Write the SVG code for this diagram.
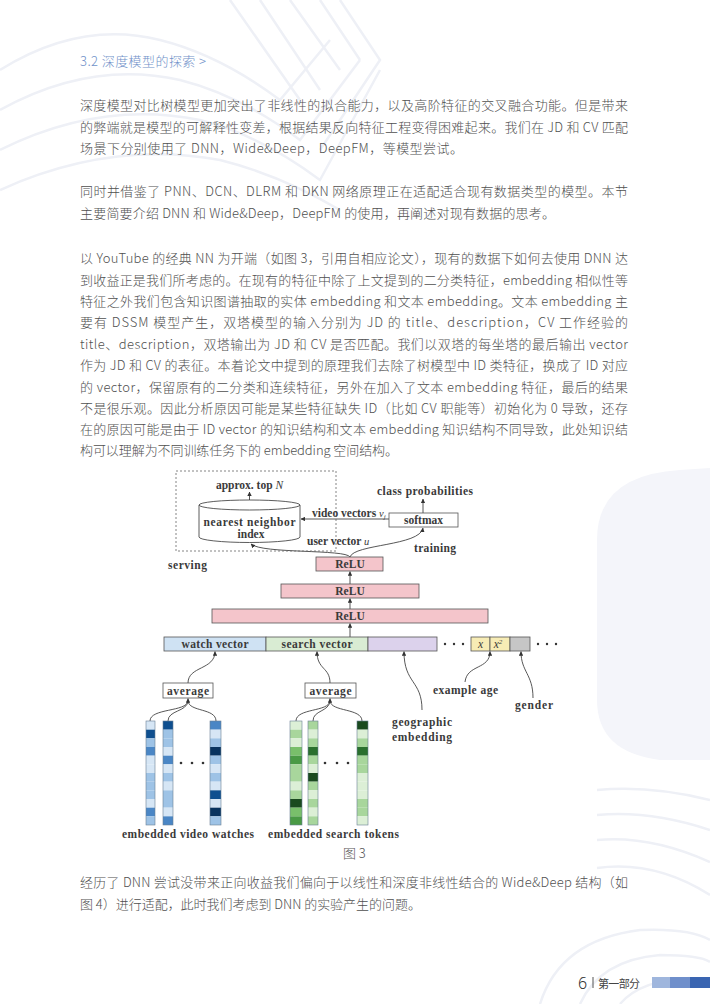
<svg xmlns="http://www.w3.org/2000/svg" width="710" height="1004" viewBox="0 0 710 1004">
<defs>
<style>
.body{font-family:"Noto Sans CJK SC","Noto Sans",sans-serif;font-size:13px;fill:#505050;font-weight:300;}
.dg{font-family:"Liberation Serif","DejaVu Serif",serif;font-size:11.5px;fill:#3a3a3a;font-weight:bold;}
.it{font-style:italic;font-weight:normal;}
.deco{fill:none;stroke:#eef0f6;stroke-width:2.5;}
.box{stroke:#555;stroke-width:0.8;}
.relu{fill:#f4c5cb;}
.con{fill:none;stroke:#444;stroke-width:0.9;}
.bL{fill:#d6e6f5}.bM{fill:#9ec3e6}.bS{fill:#4a86c5}.bD{fill:#0f4f8f}.bX{fill:#08335f}
.gL{fill:#dcefd6}.gM{fill:#a8d69c}.gG{fill:#79bf6b}.gS{fill:#4a9a45}.gD{fill:#2a6f2e}.gX{fill:#1a4a1f}
.col{fill:none;stroke:#6a7f95;stroke-width:0.6;}
</style>
<marker id="ah" viewBox="0 0 6 6" refX="5.5" refY="3" markerWidth="4.5" markerHeight="4.5" markerUnits="userSpaceOnUse" orient="auto"><path d="M0,0 L6,3 L0,6 z" fill="#333"/></marker>
</defs>
<rect x="0" y="0" width="710" height="1004" fill="#ffffff"/>
<g id="background">
<path d="M597,540 Q597,475 680,470 L710,468 L710,760 L660,760 Q597,752 597,700 Z" fill="#f4f5fa"/>
<path class="deco" d="M0,70 Q80,20 160,40 Q220,55 280,100 L330,40 M0,110 Q90,60 180,80 Q240,95 300,140 L360,60 M0,150 Q100,100 200,120 Q260,135 320,180 L380,70 M0,190 Q110,140 220,160 Q280,175 340,210 M230,0 L300,100 M260,0 L320,90 M290,0 L340,70 M320,0 L360,60 M340,0 L380,60 L320,150"/>
<path class="deco" d="M597,790 Q650,785 710,800 M597,815 Q650,810 710,830 M597,840 Q650,835 710,862 M597,868 Q655,860 710,895 M540,1004 Q560,940 640,930 Q690,928 710,940 M580,1004 Q600,960 660,955 Q700,955 710,962 M620,1004 Q640,980 690,978"/>
</g>
<g id="title">
<text x="80" y="66" font-family="'Noto Sans CJK SC','Noto Sans',sans-serif" font-size="13" font-weight="300" fill="#7091c9" textLength="126" lengthAdjust="spacing">3.2 深度模型的探索 &gt;</text>
</g>
<g id="para1" class="body">
<text x="80" y="110" textLength="548" lengthAdjust="spacing">深度模型对比树模型更加突出了非线性的拟合能力，以及高阶特征的交叉融合功能。但是带来</text>
<text x="80" y="132" textLength="548" lengthAdjust="spacing">的弊端就是模型的可解释性变差，根据结果反向特征工程变得困难起来。我们在 JD 和 CV 匹配</text>
<text x="80" y="153" textLength="383" lengthAdjust="spacing">场景下分别使用了 DNN，Wide&amp;Deep，DeepFM，等模型尝试。</text>
</g>
<g id="para2" class="body">
<text x="80" y="196" textLength="548" lengthAdjust="spacing">同时并借鉴了 PNN、DCN、DLRM 和 DKN 网络原理正在适配适合现有数据类型的模型。本节</text>
<text x="80" y="218" textLength="475" lengthAdjust="spacing">主要简要介绍 DNN 和 Wide&amp;Deep，DeepFM 的使用，再阐述对现有数据的思考。</text>
</g>
<g id="para3" class="body">
<text x="80" y="263" textLength="548" lengthAdjust="spacing">以 YouTube 的经典 NN 为开端（如图 3，引用自相应论文），现有的数据下如何去使用 DNN 达</text>
<text x="80" y="284.5" textLength="548" lengthAdjust="spacing">到收益正是我们所考虑的。在现有的特征中除了上文提到的二分类特征，embedding 相似性等</text>
<text x="80" y="306" textLength="548" lengthAdjust="spacing">特征之外我们包含知识图谱抽取的实体 embedding 和文本 embedding。文本 embedding 主</text>
<text x="80" y="327" textLength="548" lengthAdjust="spacing">要有 DSSM 模型产生，双塔模型的输入分别为 JD 的 title、description，CV 工作经验的</text>
<text x="80" y="349" textLength="548" lengthAdjust="spacing">title、description，双塔输出为 JD 和 CV 是否匹配。我们以双塔的每坐塔的最后输出 vector</text>
<text x="80" y="370" textLength="548" lengthAdjust="spacing">作为 JD 和 CV 的表征。本着论文中提到的原理我们去除了树模型中 ID 类特征，换成了 ID 对应</text>
<text x="80" y="391.5" textLength="548" lengthAdjust="spacing">的 vector，保留原有的二分类和连续特征，另外在加入了文本 embedding 特征，最后的结果</text>
<text x="80" y="413" textLength="548" lengthAdjust="spacing">不是很乐观。因此分析原因可能是某些特征缺失 ID（比如 CV 职能等）初始化为 0 导致，还存</text>
<text x="80" y="434" textLength="548" lengthAdjust="spacing">在的原因可能是由于 ID vector 的知识结构和文本 embedding 知识结构不同导致，此处知识结</text>
<text x="80" y="455" textLength="318" lengthAdjust="spacing">构可以理解为不同训练任务下的 embedding 空间结构。</text>
</g>
<g id="figure3">
<g id="connectors">
<path class="con" marker-end="url(#ah)" d="M249.5,500 L249.5,492"/>
<path class="con" marker-end="url(#ah)" d="M423,513 L423,499"/>
<path class="con" marker-end="url(#ah)" d="M389,519 L301,519"/>
<path class="con" marker-end="url(#ah)" d="M350,557 C346,549 262,554 251,544"/>
<path class="con" marker-end="url(#ah)" d="M350,557 C354,544 420,546 423,528"/>
<path class="con" marker-end="url(#ah)" d="M350,584 L350,571.5"/>
<path class="con" marker-end="url(#ah)" d="M350,609 L350,598.5"/>
<path class="con" marker-end="url(#ah)" d="M350,637 L350,623.5"/>
<path class="con" marker-end="url(#ah)" d="M188,683 C188,666 215,670 215,651.5"/>
<path class="con" marker-end="url(#ah)" d="M330,683 C330,667 317,670 317,651.5"/>
<path class="con" marker-end="url(#ah)" d="M422,710 C422,680 404,684 404,651.5"/>
<path class="con" marker-end="url(#ah)" d="M465,682 C467,664 490,670 490,651.5"/>
<path class="con" marker-end="url(#ah)" d="M533,698 C533,674 521,672 521,651.5"/>
<path class="con" d="M150,721 C150,708 187,712 188,701 M168,721 C168,710 187,712 188,701 M216,721 C216,708 189,712 188,701"/>
<path class="con" marker-end="url(#ah)" d="M188,702 L188,698.5"/>
<path class="con" d="M296,721 C296,708 329,712 330,701 M313,721 C313,710 329,712 330,701 M362,721 C362,708 331,712 330,701"/>
<path class="con" marker-end="url(#ah)" d="M330,702 L330,698.5"/>
</g>
<g id="serving-box">
<rect x="176" y="471" width="160" height="80" fill="none" stroke="#666" stroke-width="0.8" stroke-dasharray="2,2"/>
<text class="dg" x="249.5" y="489" text-anchor="middle">approx. top <tspan class="it" font-weight="bold">N</tspan></text>
<text class="dg" x="168" y="569" textLength="39">serving</text>
</g>
<g id="nn-index">
<path d="M199,505 L199,537 A50.5,5.5 0 0 0 300,537 L300,505" fill="#fff" stroke="#333" stroke-width="0.8"/>
<ellipse cx="249.5" cy="505" rx="50.5" ry="5" fill="#fff" stroke="#333" stroke-width="0.8"/>
<text class="dg" x="249.5" y="526" text-anchor="middle" textLength="92">nearest neighbor</text>
<text class="dg" x="251" y="538" text-anchor="middle">index</text>
</g>
<g id="softmax">
<rect class="box" x="389" y="513" width="69" height="14" fill="#fff"/>
<text class="dg" x="423.5" y="524" text-anchor="middle">softmax</text>
<text class="dg" x="425" y="495" text-anchor="middle" textLength="96">class probabilities</text>
<text class="dg" x="414" y="552" textLength="42">training</text>
</g>
<g id="edge-labels">
<text class="dg" x="312" y="517" font-size="9">video vectors <tspan class="it" font-size="10.5">v<tspan font-size="7" dy="2">j</tspan></tspan></text>
<text class="dg" x="307" y="545" font-size="9">user vector <tspan class="it" font-size="10.5">u</tspan></text>
</g>
<g id="relu1"><rect class="box relu" x="316" y="557" width="67" height="14"/><text class="dg" x="350" y="568" text-anchor="middle">ReLU</text></g>
<g id="relu2"><rect class="box relu" x="281" y="584" width="138" height="14"/><text class="dg" x="350" y="595" text-anchor="middle">ReLU</text></g>
<g id="relu3"><rect class="box relu" x="212" y="609" width="276" height="14"/><text class="dg" x="350" y="620" text-anchor="middle">ReLU</text></g>
<g id="input-row">
<rect class="box" x="164" y="637" width="102" height="14" fill="#cfe2f3"/>
<text class="dg" x="215" y="648" text-anchor="middle" textLength="67">watch vector</text>
<rect class="box" x="266" y="637" width="102" height="14" fill="#d9ecd3"/>
<text class="dg" x="317" y="648" text-anchor="middle" textLength="71">search vector</text>
<rect class="box" x="368" y="637" width="69" height="14" fill="#dcd2ec"/>
<circle cx="445" cy="644" r="1.2" fill="#333"/><circle cx="454" cy="644" r="1.2" fill="#333"/><circle cx="463" cy="644" r="1.2" fill="#333"/>
<rect class="box" x="471" y="637" width="19" height="14" fill="#f7ecb5"/>
<text class="dg it" x="480.5" y="648" text-anchor="middle" font-size="12">x</text>
<rect class="box" x="490" y="637" width="20" height="14" fill="#f7ecb5"/>
<text class="dg it" x="498" y="648" text-anchor="middle" font-size="12">x<tspan font-size="7" dy="-4">2</tspan></text>
<rect class="box" x="510" y="637" width="20" height="14" fill="#c6c6c6"/>
<circle cx="538" cy="644" r="1.2" fill="#333"/><circle cx="547" cy="644" r="1.2" fill="#333"/><circle cx="556" cy="644" r="1.2" fill="#333"/>
</g>
<g id="feature-labels">
<text class="dg" x="392" y="726" textLength="60">geographic</text>
<text class="dg" x="392" y="741" textLength="60">embedding</text>
<text class="dg" x="433" y="694" textLength="65">example age</text>
<text class="dg" x="515" y="709" textLength="38">gender</text>
</g>
<g id="average1"><rect class="box" x="163" y="683" width="50" height="15" fill="#fff"/><text class="dg" x="188" y="694.5" text-anchor="middle" textLength="42">average</text></g>
<g id="average2"><rect class="box" x="305" y="683" width="51" height="15" fill="#fff"/><text class="dg" x="330.5" y="694.5" text-anchor="middle" textLength="42">average</text></g>
<g id="video-watches">
<g transform="translate(146,721)">
<rect class="bL" y="0" width="9" height="8.67"/><rect class="bD" y="8.67" width="9" height="8.67"/><rect class="bM" y="17.33" width="9" height="8.67"/><rect class="bS" y="26" width="9" height="8.67"/><rect class="bL" y="34.67" width="9" height="8.67"/><rect class="bL" y="43.33" width="9" height="8.67"/><rect class="bM" y="52" width="9" height="8.67"/><rect class="bM" y="60.67" width="9" height="8.67"/><rect class="bM" y="69.33" width="9" height="8.67"/><rect class="bL" y="78" width="9" height="8.67"/><rect class="bS" y="86.67" width="9" height="8.67"/><rect class="bM" y="95.33" width="9" height="8.67"/>
<rect class="col" width="9" height="104"/>
</g>
<g transform="translate(163,721)">
<rect class="bD" y="0" width="10" height="8.67"/><rect class="bM" y="8.67" width="10" height="8.67"/><rect class="bM" y="17.33" width="10" height="8.67"/><rect class="bL" y="26" width="10" height="8.67"/><rect class="bS" y="34.67" width="10" height="8.67"/><rect class="bL" y="43.33" width="10" height="8.67"/><rect class="bM" y="52" width="10" height="8.67"/><rect class="bL" y="60.67" width="10" height="8.67"/><rect class="bM" y="69.33" width="10" height="8.67"/><rect class="bM" y="78" width="10" height="8.67"/><rect class="bL" y="86.67" width="10" height="8.67"/><rect class="bS" y="95.33" width="10" height="8.67"/>
<rect class="col" width="10" height="104"/>
</g>
<g transform="translate(210,721)">
<rect class="bS" y="0" width="11" height="8.67"/><rect class="bL" y="8.67" width="11" height="8.67"/><rect class="bM" y="17.33" width="11" height="8.67"/><rect class="bX" y="26" width="11" height="8.67"/><rect class="bM" y="34.67" width="11" height="8.67"/><rect class="bL" y="43.33" width="11" height="8.67"/><rect class="bM" y="52" width="11" height="8.67"/><rect class="bL" y="60.67" width="11" height="8.67"/><rect class="bD" y="69.33" width="11" height="8.67"/><rect class="bL" y="78" width="11" height="8.67"/><rect class="bX" y="86.67" width="11" height="8.67"/><rect class="bM" y="95.33" width="11" height="8.67"/>
<rect class="col" width="11" height="104"/>
</g>
<circle cx="181" cy="763" r="1.3" fill="#333"/><circle cx="192" cy="763" r="1.3" fill="#333"/><circle cx="203" cy="763" r="1.3" fill="#333"/>
<text class="dg" x="122" y="838" textLength="132">embedded video watches</text>
</g>
<g id="search-tokens">
<g transform="translate(290,721)">
<rect class="gL" y="0" width="12" height="8.67"/><rect class="gM" y="8.67" width="12" height="8.67"/><rect class="gL" y="17.33" width="12" height="8.67"/><rect class="gG" y="26" width="12" height="8.67"/><rect class="gS" y="34.67" width="12" height="8.67"/><rect class="gM" y="43.33" width="12" height="8.67"/><rect class="gM" y="52" width="12" height="8.67"/><rect class="gL" y="60.67" width="12" height="8.67"/><rect class="gM" y="69.33" width="12" height="8.67"/><rect class="gX" y="78" width="12" height="8.67"/><rect class="gG" y="86.67" width="12" height="8.67"/><rect class="gS" y="95.33" width="12" height="8.67"/>
<rect class="col" width="12" height="104"/>
</g>
<g transform="translate(308,721)">
<rect class="gM" y="0" width="10" height="8.67"/><rect class="gL" y="8.67" width="10" height="8.67"/><rect class="gM" y="17.33" width="10" height="8.67"/><rect class="gD" y="26" width="10" height="8.67"/><rect class="gM" y="34.67" width="10" height="8.67"/><rect class="gL" y="43.33" width="10" height="8.67"/><rect class="gX" y="52" width="10" height="8.67"/><rect class="gM" y="60.67" width="10" height="8.67"/><rect class="gL" y="69.33" width="10" height="8.67"/><rect class="gM" y="78" width="10" height="8.67"/><rect class="gL" y="86.67" width="10" height="8.67"/><rect class="gM" y="95.33" width="10" height="8.67"/>
<rect class="col" width="10" height="104"/>
</g>
<g transform="translate(357,721)">
<rect class="gX" y="0" width="11" height="8.67"/><rect class="gL" y="8.67" width="11" height="8.67"/><rect class="gM" y="17.33" width="11" height="8.67"/><rect class="gD" y="26" width="11" height="8.67"/><rect class="gM" y="34.67" width="11" height="8.67"/><rect class="gM" y="43.33" width="11" height="8.67"/><rect class="gL" y="52" width="11" height="8.67"/><rect class="gL" y="60.67" width="11" height="8.67"/><rect class="gL" y="69.33" width="11" height="8.67"/><rect class="gM" y="78" width="11" height="8.67"/><rect class="gM" y="86.67" width="11" height="8.67"/><rect class="gL" y="95.33" width="11" height="8.67"/>
<rect class="col" width="11" height="104"/>
</g>
<circle cx="325" cy="763" r="1.3" fill="#333"/><circle cx="337" cy="763" r="1.3" fill="#333"/><circle cx="348" cy="763" r="1.3" fill="#333"/>
<text class="dg" x="268" y="838" textLength="131">embedded search tokens</text>
</g>
</g>
<g id="caption">
<text class="body" x="343" y="858" style="fill:#555">图 3</text>
</g>
<g id="para4" class="body">
<text x="80" y="887" textLength="548" lengthAdjust="spacing">经历了 DNN 尝试没带来正向收益我们偏向于以线性和深度非线性结合的 Wide&amp;Deep 结构（如</text>
<text x="80" y="909" textLength="341" lengthAdjust="spacing">图 4）进行适配，此时我们考虑到 DNN 的实验产生的问题。</text>
</g>
<g id="footer">
<text x="578" y="989" font-family="'Noto Sans','DejaVu Sans',sans-serif" font-size="16" font-weight="300" fill="#333">6</text>
<rect x="592.5" y="977" width="1" height="11" fill="#555"/>
<text x="598" y="987.5" font-family="'Noto Sans CJK SC',sans-serif" font-size="11" fill="#444" textLength="42">第一部分</text>
<rect x="652" y="977" width="18" height="11" fill="#9fb6dd"/>
<rect x="670" y="977" width="20" height="11" fill="#6f8fcb"/>
<rect x="690" y="977" width="20" height="11" fill="#3a65b1"/>
</g>
</svg>
